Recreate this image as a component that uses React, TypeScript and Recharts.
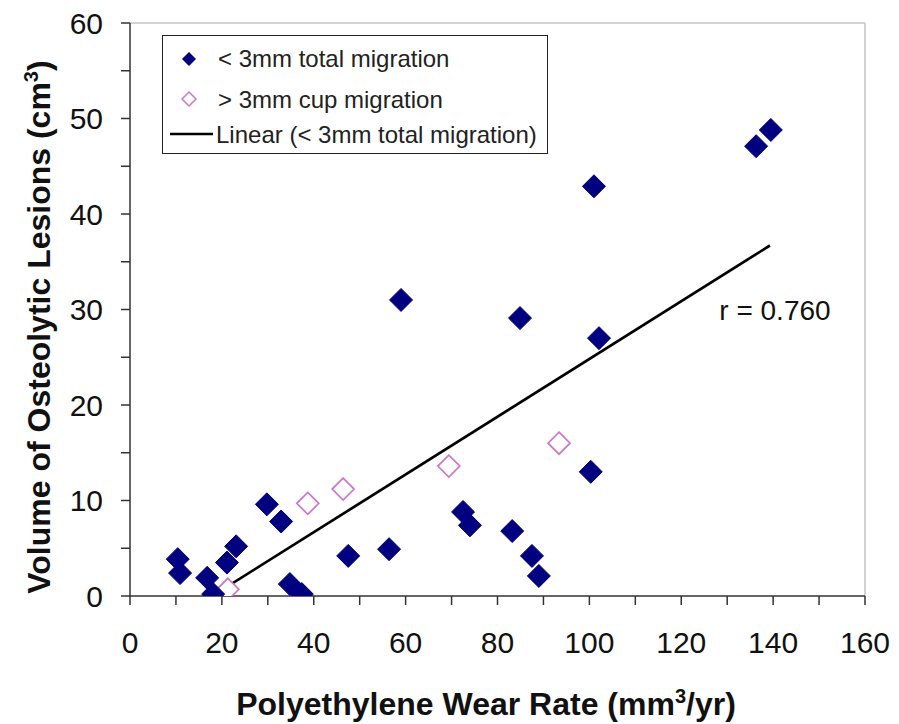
import React from 'react';
import { ScatterChart, Scatter, XAxis, YAxis, ReferenceLine, ReferenceDot, Legend } from 'recharts';

const lowX = [10.4, 10.9, 16.8, 18.1, 21.1, 23.1, 29.8, 32.9, 34.8, 37.4, 47.5, 56.4, 59.0, 72.5, 74.0, 83.2, 87.5, 89.0, 84.9, 101.0, 102.1, 100.3, 136.3, 139.5];
const lowY = [3.86, 2.4, 1.9, 0.2, 3.5, 5.2, 9.6, 7.8, 1.25, 0.2, 4.2, 4.9, 31.0, 8.8, 7.4, 6.8, 4.2, 2.1, 29.1, 42.9, 27.0, 13.0, 47.1, 48.8];
const cupX = [21.3, 38.7, 46.4, 69.4, 93.4];
const cupY = [0.7, 9.7, 11.2, 13.6, 16.0];
const trendX = [18.9, 139.3];
const trendY = [0.3, 36.7];
const xTicks = [0, 10, 20, 30, 40, 50, 60, 70, 80, 90, 100, 110, 120, 130, 140, 150, 160];
const yTicks = [0, 5, 10, 15, 20, 25, 30, 35, 40, 45, 50, 55, 60];
const legendLabels = ['< 3mm total migration', '> 3mm cup migration', 'Linear (< 3mm total migration)'];
const rLabel = 'r = 0.760';

const lowData = lowX.map((x, i) => ({ x, y: lowY[i] }));
const cupData = cupX.map((x, i) => ({ x, y: cupY[i] }));
const trendData = trendX.map((x, i) => ({ x, y: trendY[i] }));

const NAVY = '#000080';
const PINK = '#CC77CC';
const FONT = '"Liberation Sans", Arial, sans-serif';

const FilledDiamond = (props: any) => {
  const { cx, cy } = props;
  const h = 11.5;
  return <polygon points={`${cx},${cy - h} ${cx + h},${cy} ${cx},${cy + h} ${cx - h},${cy}`} fill={NAVY} stroke={NAVY} strokeWidth={1} />;
};

const HollowDiamond = (props: any) => {
  const { cx, cy } = props;
  const h = 11;
  return <polygon points={`${cx},${cy - h} ${cx + h},${cy} ${cx},${cy + h} ${cx - h},${cy}`} fill="#fff" stroke={PINK} strokeWidth={1.7} />;
};

const NoShape = () => <g />;

const renderLegend = () => {
  const ix = 26;
  const h = 7;
  return (
    <div style={{ width: 386, height: 119, boxSizing: 'border-box', border: '1.5px solid #222', background: '#fff' }}>
      <svg width={383} height={116} style={{ display: 'block' }}>
        <polygon points={`${ix},${23 - h} ${ix + h},${23} ${ix},${23 + h} ${ix - h},${23}`} fill={NAVY} />
        <text x={55} y={31} fontSize={24} fill="#222" fontFamily={FONT}>{legendLabels[0]}</text>
        <polygon points={`${ix},${63 - h} ${ix + h},${63} ${ix},${63 + h} ${ix - h},${63}`} fill="#fff" stroke={PINK} strokeWidth={1.5} />
        <text x={55} y={72} fontSize={24} fill="#222" fontFamily={FONT}>{legendLabels[1]}</text>
        <line x1={7} x2={50} y1={98} y2={98} stroke="#000" strokeWidth={2.5} />
        <text x={53} y={107} fontSize={24} fill="#222" fontFamily={FONT}>{legendLabels[2]}</text>
      </svg>
    </div>
  );
};

const YTitle = () => (
  <text x={50} y={327} transform="rotate(-90 50 327)" textAnchor="middle" fontSize={32} fontWeight="bold" fill="#111" fontFamily={FONT}>
    Volume of Osteolytic Lesions (cm<tspan dy={-12} fontSize={20}>3</tspan><tspan dy={12}>)</tspan>
  </text>
);

const XTitle = () => (
  <text x={486} y={715} textAnchor="middle" fontSize={32} fontWeight="bold" fill="#111" fontFamily={FONT}>
    Polyethylene Wear Rate (mm<tspan dy={-12} fontSize={20}>3</tspan><tspan dy={12}>/yr)</tspan>
  </text>
);

export default function App() {
  return (
    <div style={{ position: 'absolute', left: 0, top: 0, width: 899, height: 724, background: '#fff', fontFamily: FONT }}>
      <ScatterChart width={899} height={724} margin={{ top: 23, right: 34, left: 0, bottom: 0 }}>
        <XAxis
          type="number"
          dataKey="x"
          domain={[0, 160]}
          ticks={xTicks}
          interval={0}
          allowDataOverflow
          tickFormatter={(v: number) => (v % 20 === 0 ? String(v) : '')}
          tickSize={9}
          tickMargin={27}
          height={128}
          axisLine={{ stroke: '#333', strokeWidth: 1.5 }}
          tickLine={{ stroke: '#333', strokeWidth: 1.5 }}
          tick={{ fontSize: 30, fill: '#111', fontFamily: FONT }}
          label={<XTitle />}
        />
        <YAxis
          type="number"
          dataKey="y"
          domain={[0, 60]}
          ticks={yTicks}
          interval={0}
          allowDataOverflow
          tickFormatter={(v: number) => (v % 10 === 0 ? String(v) : '')}
          tickSize={9}
          tickMargin={18}
          width={130}
          axisLine={{ stroke: '#333', strokeWidth: 1.5 }}
          tickLine={{ stroke: '#333', strokeWidth: 1.5 }}
          tick={{ fontSize: 30, fill: '#111', fontFamily: FONT }}
          label={<YTitle />}
        />
        <ReferenceLine y={60} stroke="#c4c4c4" strokeWidth={1.5} />
        <ReferenceLine x={160} stroke="#c4c4c4" strokeWidth={1.5} />
        <Scatter name="trend" data={trendData} line={{ stroke: '#000', strokeWidth: 2.7 }} shape={NoShape} isAnimationActive={false} />
        <Scatter name="cup" data={cupData} shape={HollowDiamond} isAnimationActive={false} />
        <Scatter name="low" data={lowData} shape={FilledDiamond} isAnimationActive={false} />
        <ReferenceDot
          x={140.4}
          y={29.9}
          r={0}
          fill="none"
          stroke="none"
          label={{ value: rLabel, position: 'center', fontSize: 28, fill: '#111', fontFamily: FONT }}
        />
        <Legend
          layout="vertical"
          align="center"
          verticalAlign="middle"
          content={renderLegend}
          wrapperStyle={{ position: 'absolute', left: 162, top: 35, width: 386, height: 119 }}
        />
      </ScatterChart>
    </div>
  );
}
